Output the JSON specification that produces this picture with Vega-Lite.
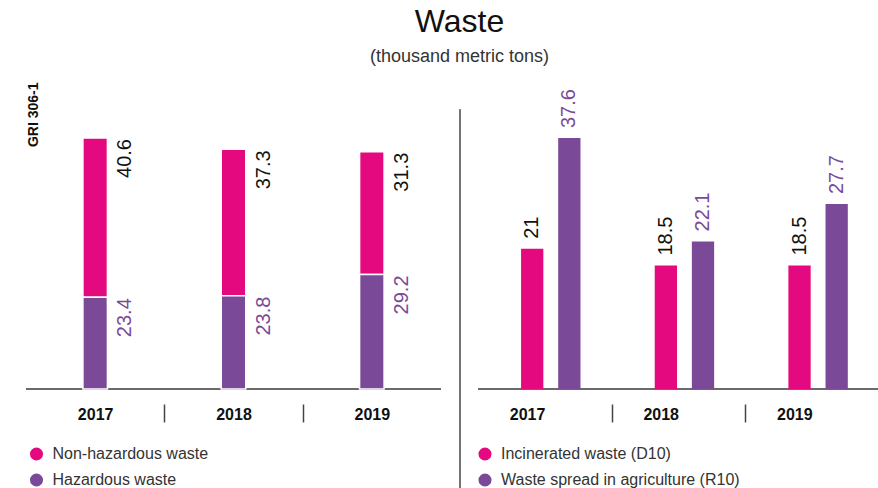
{
  "$schema": "https://vega.github.io/schema/vega-lite/v6.json",
  "padding": {"left": 25, "top": 6, "right": 0, "bottom": 0},
  "title": {
    "text": "Waste",
    "subtitle": "(thousand metric tons)",
    "fontSize": 32,
    "fontWeight": "normal",
    "color": "#111",
    "subtitleFontSize": 18,
    "subtitleColor": "#333",
    "subtitlePadding": 9,
    "anchor": "middle",
    "dx": 7,
    "offset": 15
  },
  "spacing": 37,
  "bounds": "flush",
  "resolve": {
    "scale": {"color": "independent", "x": "independent", "y": "independent"},
    "legend": {"color": "independent"}
  },
  "hconcat": [
    {
      "width": 415,
      "height": 251,
      "data": {"values": [
        {"year": 2017, "type": "Non-hazardous waste", "value": 40.6},
        {"year": 2017, "type": "Hazardous waste", "value": 23.4},
        {"year": 2018, "type": "Non-hazardous waste", "value": 37.3},
        {"year": 2018, "type": "Hazardous waste", "value": 23.8},
        {"year": 2019, "type": "Non-hazardous waste", "value": 31.3},
        {"year": 2019, "type": "Hazardous waste", "value": 29.2}
      ]},
      "layer": [
        {
          "mark": {"type": "rule", "color": "#6b6b6b", "strokeWidth": 1.5},
          "encoding": {"y": {"datum": 0, "type": "quantitative"}}
        },
        {
          "mark": {"type": "bar", "width": 24.5, "stroke": "white", "strokeWidth": 1.5},
          "encoding": {
            "x": {
              "field": "year", "type": "ordinal",
              "scale": {"paddingInner": 0, "paddingOuter": 0},
              "axis": {
                "title": null, "domain": false, "offset": 15, "tickBand": "extent",
                "tickSize": 18, "tickWidth": 1.5, "tickColor": "#444",
                "tickOpacity": {"condition": {"test": "datum.value == 2017 || datum.value == 2018", "value": 1}, "value": 0},
                "labelAngle": 0, "labelFontSize": 16, "labelFontWeight": "bold", "labelColor": "#111",
                "labelPadding": -8, "labelBaseline": "middle"
              }
            },
            "y": {
              "field": "value", "type": "quantitative", "stack": "zero",
              "scale": {"domain": [0, 64], "nice": false},
              "axis": {
                "title": "GRI 306-1", "domain": false, "ticks": false, "labels": false, "grid": false,
                "titleAngle": 270, "titleAlign": "right", "titleBaseline": "middle",
                "titleX": 7, "titleY": -56, "titleFontSize": 14, "titleFontWeight": "bold", "titleColor": "#111"
              }
            },
            "order": {"field": "type", "type": "nominal", "sort": "ascending"},
            "color": {
              "field": "type", "type": "nominal",
              "scale": {"domain": ["Non-hazardous waste", "Hazardous waste"], "range": ["#E5097F", "#7A4A98"]},
              "legend": {
                "title": null, "orient": "none", "legendX": 2.5, "legendY": 308,
                "symbolType": "circle", "symbolSize": 170, "symbolStrokeWidth": 0,
                "labelFontSize": 16, "labelColor": "#333", "rowPadding": 10, "labelOffset": 8, "padding": 0
              }
            }
          }
        },
        {
          "mark": {"type": "text", "angle": 270, "align": "right", "baseline": "middle", "xOffset": 30, "yOffset": 1, "fontSize": 20},
          "encoding": {
            "x": {"field": "year", "type": "ordinal"},
            "y": {"field": "value", "type": "quantitative", "stack": "zero"},
            "detail": {"field": "type", "type": "nominal"},
            "order": {"field": "type", "type": "nominal", "sort": "ascending"},
            "text": {"field": "value", "type": "quantitative", "format": ".1f"},
            "color": {"condition": {"test": "datum.type == 'Hazardous waste'", "value": "#7A4A98"}, "value": "#111"}
          }
        }
      ]
    },
    {
      "width": 401,
      "height": 251,
      "data": {"values": [
        {"year": 2017, "type": "Incinerated waste (D10)", "value": 21},
        {"year": 2017, "type": "Waste spread in agriculture (R10)", "value": 37.6},
        {"year": 2018, "type": "Incinerated waste (D10)", "value": 18.5},
        {"year": 2018, "type": "Waste spread in agriculture (R10)", "value": 22.1},
        {"year": 2019, "type": "Incinerated waste (D10)", "value": 18.5},
        {"year": 2019, "type": "Waste spread in agriculture (R10)", "value": 27.7}
      ]},
      "layer": [
        {
          "mark": {"type": "rule", "color": "#6b6b6b", "strokeWidth": 1.5},
          "encoding": {"y": {"datum": 0, "type": "quantitative", "axis": null}}
        },
        {
          "transform": [{"filter": "datum.year == 2017"}],
          "mark": {"type": "rule", "color": "#6b6b6b", "strokeWidth": 1.5, "xOffset": -18},
          "encoding": {
            "x": {"field": "year", "type": "ordinal", "bandPosition": 0},
            "y": {"datum": 41.9, "type": "quantitative", "axis": null},
            "y2": {"datum": -15}
          }
        },
        {
          "mark": {"type": "bar"},
          "encoding": {
            "x": {
              "field": "year", "type": "ordinal",
              "scale": {"paddingInner": 0, "paddingOuter": 0},
              "axis": {
                "title": null, "domain": false, "offset": 15, "tickBand": "extent",
                "tickSize": 18, "tickWidth": 1.5, "tickColor": "#444",
                "tickOpacity": {"condition": {"test": "datum.value == 2017 || datum.value == 2018", "value": 1}, "value": 0},
                "labelAngle": 0, "labelFontSize": 16, "labelFontWeight": "bold", "labelColor": "#111",
                "labelPadding": -8, "labelBaseline": "middle"
              }
            },
            "xOffset": {
              "field": "type", "type": "nominal",
              "scale": {"paddingInner": 0.4, "paddingOuter": 1.25, "align": 0.58}
            },
            "y": {
              "field": "value", "type": "quantitative", "stack": null,
              "scale": {"domain": [0, 37.6], "nice": false},
              "axis": null
            },
            "color": {
              "field": "type", "type": "nominal",
              "scale": {"domain": ["Incinerated waste (D10)", "Waste spread in agriculture (R10)"], "range": ["#E5097F", "#7A4A98"]},
              "legend": {
                "title": null, "orient": "none", "legendX": -1, "legendY": 308,
                "symbolType": "circle", "symbolSize": 170, "symbolStrokeWidth": 0,
                "labelFontSize": 16, "labelColor": "#333", "rowPadding": 10, "labelOffset": 8, "padding": 0, "labelLimit": 300
              }
            }
          }
        },
        {
          "mark": {"type": "text", "angle": 270, "align": "left", "baseline": "middle", "yOffset": -10, "fontSize": 20},
          "encoding": {
            "x": {"field": "year", "type": "ordinal"},
            "xOffset": {"field": "type", "type": "nominal"},
            "y": {"field": "value", "type": "quantitative", "stack": null, "axis": null},
            "text": {"field": "value", "type": "quantitative", "format": ".3~f"},
            "color": {"condition": {"test": "datum.type == 'Incinerated waste (D10)'", "value": "#111"}, "value": "#7A4A98"}
          }
        }
      ]
    }
  ],
  "config": {
    "font": "Liberation Sans",
    "view": {"stroke": null},
    "axis": {"grid": false}
  }
}
